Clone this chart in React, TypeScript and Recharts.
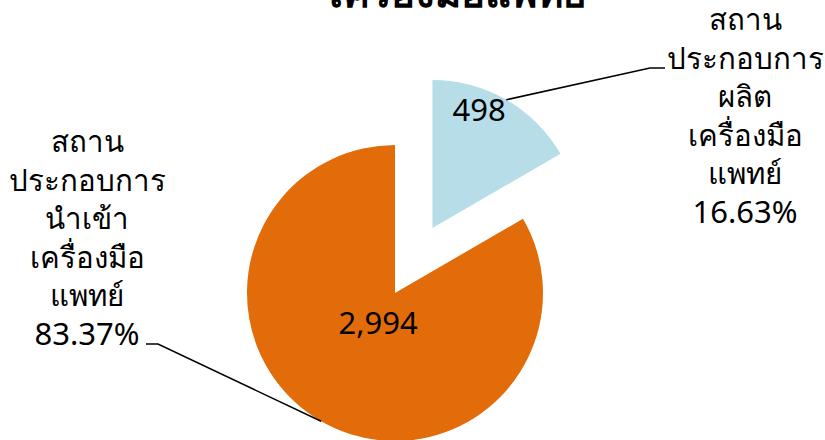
import { PieChart, Pie, Cell } from "recharts";

// slices are sized by share (%), the count is only printed inside
const categories = [
  "สถานประกอบการผลิตเครื่องมือแพทย์",
  "สถานประกอบการนำเข้าเครื่องมือแพทย์",
];
const categoryLines = [
  ["สถาน", "ประกอบการ", "ผลิต", "เครื่องมือ", "แพทย์"],
  ["สถาน", "ประกอบการ", "นำเข้า", "เครื่องมือ", "แพทย์"],
];
const counts = [498, 2994];
const shares = [16.63, 83.37];
const colors = ["#B6DDE8", "#E36C0A"];
const title = "เครื่องมือแพทย์";

const FONT = "Tahoma, 'Noto Sans', 'DejaVu Sans', sans-serif";
const RAD = Math.PI / 180;

const W = 825;
const H = 440;
const CX = 395;
const CY = 293;
const R = 148;
const EXPLODE = 75;

const data = categories.map((name, i) => ({
  name,
  lines: categoryLines[i],
  count: counts[i],
  share: shares[i],
}));

// explode the first slice along its mid angle
const firstMid = 90 - (360 * shares[0]) / 100 / 2;
const exCX = CX + Math.cos(firstMid * RAD) * EXPLODE;
const exCY = CY - Math.sin(firstMid * RAD) * EXPLODE;

// per slice: value label placement, leader elbow, text block
const LABEL_STYLE = [
  { valR: 128, valDA: 8.5, elbow: { x: 650, y: 68 }, tail: 15, textX: 745, textY: 30 },
  { valR: 34, valDA: 0, elbow: { x: 158, y: 344 }, tail: -12, textX: 87, textY: 152 },
];
const LINE_H = 38.6;

const polar = (cx: number, cy: number, r: number, a: number) => ({
  x: cx + Math.cos(-a * RAD) * r,
  y: cy + Math.sin(-a * RAD) * r,
});

const renderLabel = (which: number) => (props: any) => {
  const { cx, cy, midAngle, outerRadius, index } = props;
  if (index !== which) return <g />;
  const st = LABEL_STYLE[index];
  const row = data[index];
  const v = polar(cx, cy, st.valR, midAngle + st.valDA);
  const edge = polar(cx, cy, outerRadius, midAngle);
  return (
    <g>
      <text
        x={v.x}
        y={v.y}
        textAnchor="middle"
        dominantBaseline="central"
        fontFamily={FONT}
        fontSize={31}
        fill="#000"
      >
        {row.count.toLocaleString("en-US")}
      </text>
      <polyline
        points={`${edge.x},${edge.y} ${st.elbow.x},${st.elbow.y} ${st.elbow.x + st.tail},${st.elbow.y}`}
        fill="none"
        stroke="#000"
        strokeWidth={1.5}
      />
      <text textAnchor="middle" fontFamily={FONT} fill="#000">
        {row.lines.map((t, i) => (
          <tspan key={i} x={st.textX} y={st.textY + i * LINE_H} fontSize={29.5}>
            {t}
          </tspan>
        ))}
        <tspan x={st.textX} y={st.textY + row.lines.length * LINE_H} fontSize={31}>
          {`${row.share.toFixed(2)}%`}
        </tspan>
      </text>
    </g>
  );
};

export default function App() {
  return (
    <div style={{ position: "absolute", left: 0, top: 0, width: W, height: H, background: "#fff" }}>
      <PieChart width={W} height={H} margin={{ top: 0, right: 0, bottom: 0, left: 0 }}>
        {/* exploded small slice */}
        <Pie
          data={data}
          dataKey="share"
          cx={exCX}
          cy={exCY}
          outerRadius={R}
          startAngle={90}
          endAngle={-270}
          stroke="none"
          label={renderLabel(0)}
          labelLine={false}
          isAnimationActive={false}
        >
          {data.map((_, i) => (
            <Cell key={i} fill={i === 0 ? colors[0] : "transparent"} />
          ))}
        </Pie>
        {/* main slice */}
        <Pie
          data={data}
          dataKey="share"
          cx={CX}
          cy={CY}
          outerRadius={R}
          startAngle={90}
          endAngle={-270}
          stroke="none"
          label={renderLabel(1)}
          labelLine={false}
          isAnimationActive={false}
        >
          {data.map((_, i) => (
            <Cell key={i} fill={i === 1 ? colors[1] : "transparent"} />
          ))}
        </Pie>
      </PieChart>
      <svg
        width={W}
        height={H}
        style={{ position: "absolute", left: 0, top: 0, pointerEvents: "none" }}
      >
        <text x={457} y={7} textAnchor="middle" fontFamily={FONT} fontWeight="bold" fontSize={40} fill="#000">
          {title}
        </text>
      </svg>
    </div>
  );
}
